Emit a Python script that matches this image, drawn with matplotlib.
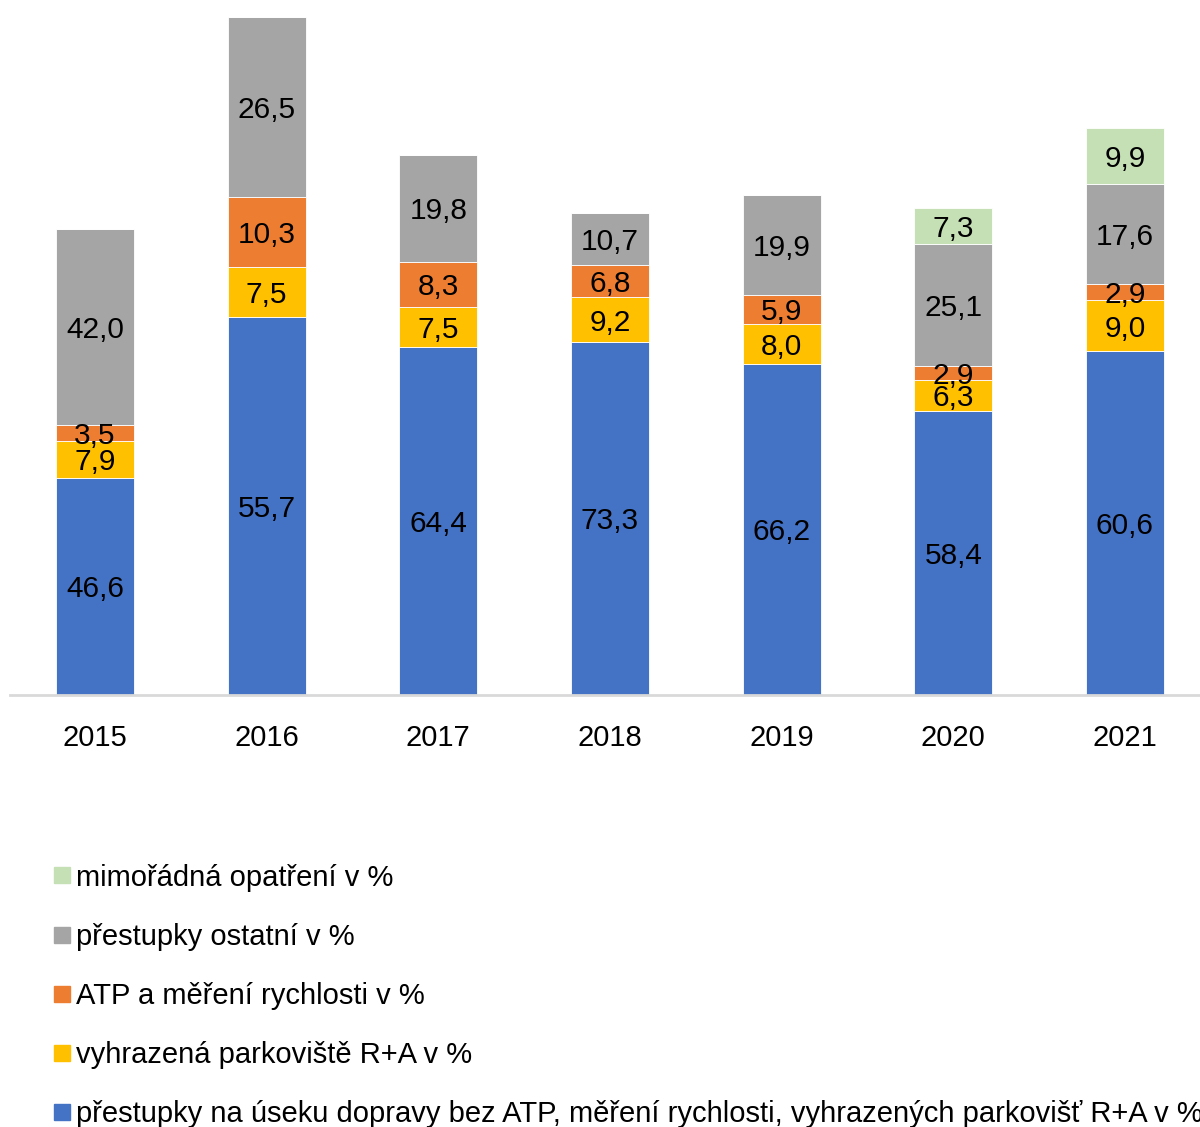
import matplotlib
matplotlib.use("Agg")
import matplotlib.pyplot as plt
from matplotlib.lines import Line2D
import numpy as np

years = ["2015", "2016", "2017", "2018", "2019", "2020", "2021"]
# relative bar totals (bars differ in height; labels show shares in %)
totals = [466, 678, 540, 482, 500, 487, 567]
pct_doprava = [46.6, 55.7, 64.4, 73.3, 66.2, 58.4, 60.6]
pct_parkoviste = [7.9, 7.5, 7.5, 9.2, 8.0, 6.3, 9.0]
pct_atp = [3.5, 10.3, 8.3, 6.8, 5.9, 2.9, 2.9]
pct_ostatni = [42.0, 26.5, 19.8, 10.7, 19.9, 25.1, 17.6]
pct_mimoradna = [0, 0, 0, 0, 0, 7.3, 9.9]

series_names = [
    "přestupky na úseku dopravy bez ATP, měření rychlosti, vyhrazených parkovišť R+A v %",
    "vyhrazená parkoviště R+A v %",
    "ATP a měření rychlosti v %",
    "přestupky ostatní v %",
    "mimořádná opatření v %",
]
series_pct = [pct_doprava, pct_parkoviste, pct_atp, pct_ostatni, pct_mimoradna]
colors = ["#4472C4", "#FFC000", "#ED7D31", "#A5A5A5", "#C5E0B4"]

plt.rcParams["font.family"] = ["Liberation Sans", "DejaVu Sans"]

W, H = 1200, 1127
fig = plt.figure(figsize=(W / 100, H / 100), dpi=100)
ax = fig.add_axes([10 / W, (H - 695) / H, 1190 / W, 695 / H])

x = np.arange(len(years))
tot = np.array(totals, dtype=float)
bottom = np.zeros(len(years))
for pct, col in zip(series_pct, colors):
    p = np.array(pct, dtype=float)
    h = tot * p / 100.0
    ax.bar(x, h, 0.454, bottom=bottom, color=col, edgecolor="white", linewidth=0.6, zorder=2)
    for xi, hi, bi, pi in zip(x, h, bottom, p):
        if pi > 0:
            ax.text(xi, bi + hi / 2, f"{pi:.1f}".replace(".", ","), ha="center",
                    va="center_baseline", fontsize=21.5, color="black", zorder=3)
    bottom += h

ax.set_xlim(-0.495, -0.495 + 1190 / 171.67)
ax.set_ylim(0, 695)
for s in ["top", "right", "left"]:
    ax.spines[s].set_visible(False)
ax.spines["bottom"].set_color("#D9D9D9")
ax.spines["bottom"].set_linewidth(2)
ax.set_yticks([])
ax.set_xticks(x)
ax.set_xticklabels(years, fontsize=21)
ax.tick_params(axis="x", length=0, pad=21)

handles = [Line2D([], [], marker="s", linestyle="none", markersize=11, markerfacecolor=c,
                  markeredgecolor=c) for c in colors]
leg = fig.legend(handles[::-1], series_names[::-1], loc="upper left",
                 bbox_to_anchor=(40 / W, 1 - 849 / H), frameon=False, fontsize=21,
                 handlelength=0.5, handletextpad=0.25, labelspacing=1.07, borderpad=0)

fig.savefig("out.png", dpi=100)
